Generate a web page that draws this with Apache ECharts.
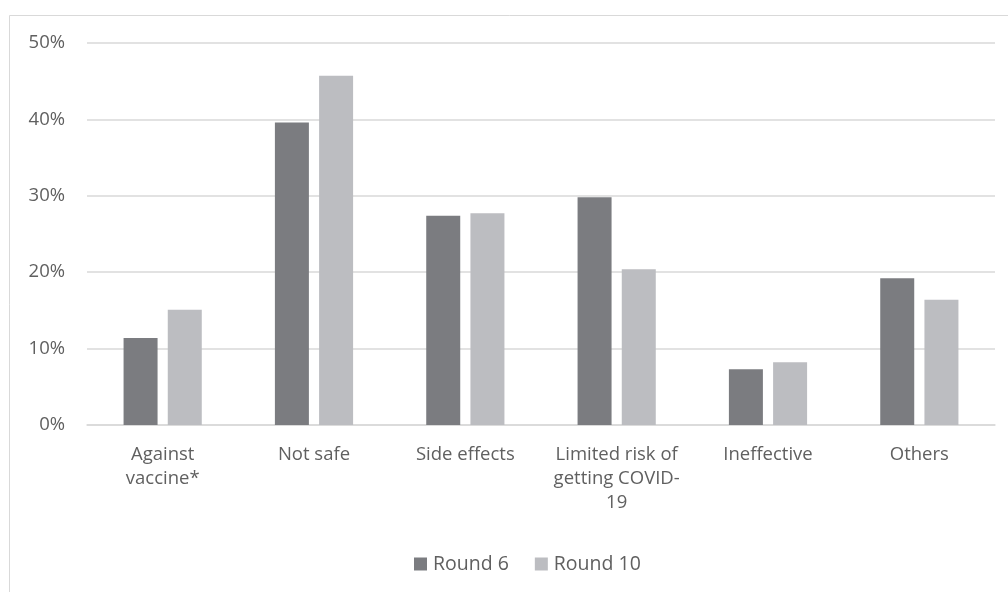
<!DOCTYPE html>
<html>
<head>
<meta charset="utf-8">
<script src="https://cdn.jsdelivr.net/npm/echarts@6/dist/echarts.min.js"></script>
<style>
  html, body { margin: 0; padding: 0; background: #fff; }
  #chart { width: 1008px; height: 592px; }
</style>
</head>
<body>
<div id="chart"></div>
<script>
// Reasons for vaccine hesitancy, share of respondents by survey round
const categories = ['Against\nvaccine*', 'Not safe', 'Side effects', 'Limited risk of\ngetting COVID-\n19', 'Ineffective', 'Others'];
const round6 = [11.4, 39.6, 27.4, 29.8, 7.3, 19.2];
const round10 = [15.1, 45.7, 27.7, 20.4, 8.2, 16.4];
const yTicks = [0, 10, 20, 30, 40, 50];

const FONT = '"Open Sans", sans-serif';
const TEXT = '#606060';
const SIZE = 18.5;

const chart = echarts.init(document.getElementById('chart'), null, { renderer: 'canvas' });
chart.setOption({
  animation: false,
  backgroundColor: '#ffffff',
  graphic: [{
    type: 'rect',
    shape: { x: 9.5, y: 15.5, width: 1010, height: 600 },
    style: { fill: 'none', stroke: '#d9d9d9', lineWidth: 1 },
    silent: true
  }],
  grid: { left: 87, right: 13, top: 43, bottom: 167, containLabel: false },
  legend: {
    top: 549,
    left: 409,
    itemWidth: 13,
    itemHeight: 13,
    itemGap: 26,
    icon: 'rect',
    textStyle: { color: TEXT, fontSize: 19.5, fontFamily: FONT, padding: [0, 0, 0, 1] },
    data: ['Round 6', 'Round 10']
  },
  xAxis: {
    type: 'category',
    data: categories,
    axisLine: { lineStyle: { color: '#d9d9d9', width: 1.5 } },
    axisTick: { show: false },
    axisLabel: { color: TEXT, fontSize: SIZE, fontFamily: FONT, lineHeight: 24, margin: 18, interval: 0 }
  },
  yAxis: {
    type: 'value',
    min: yTicks[0],
    max: yTicks[yTicks.length - 1],
    interval: 10,
    axisLine: { show: false },
    axisTick: { show: false },
    splitLine: { lineStyle: { color: '#d9d9d9', width: 1.5 } },
    axisLabel: { color: TEXT, fontSize: SIZE, fontFamily: FONT, margin: 22, formatter: v => v + '%' }
  },
  series: [
    { name: 'Round 6', type: 'bar', data: round6, barWidth: 34, barGap: '30%', itemStyle: { color: '#7b7c80' } },
    { name: 'Round 10', type: 'bar', data: round10, barWidth: 34, itemStyle: { color: '#bcbdc1' } }
  ]
});
</script>
</body>
</html>
